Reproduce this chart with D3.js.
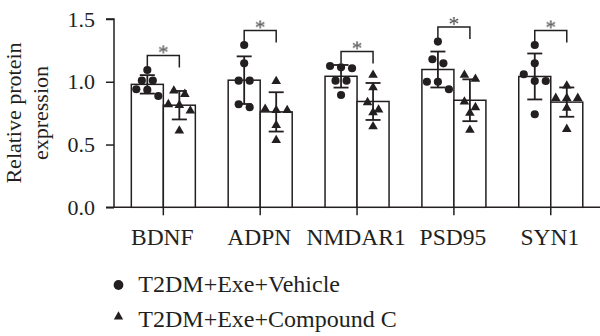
<!DOCTYPE html>
<html>
<head>
<meta charset="utf-8">
<script src="https://cdn.jsdelivr.net/npm/d3@7"></script>
<style>
  body { margin: 0; background: #fff; }
  text { font-family: "Liberation Serif", "DejaVu Serif", serif; fill: #231f20; }
  .star { will-change: transform; }
</style>
</head>
<body>
<div id="chart"></div>
<script>
// values
const categories = ["BDNF", "ADPN", "NMDAR1", "PSD95", "SYN1"];
const groups = ["T2DM+Exe+Vehicle", "T2DM+Exe+Compound C"];
const vehicle = [
    [1.094, 1.01, 1.01, 0.94, 0.935, 0.887],
    [1.293, 1.147, 1.009, 1.009, 0.821, 0.797],
    [1.126, 1.115, 1.108, 1.009, 1.009, 0.895],
    [1.32, 1.179, 1.147, 1.0, 1.0, 0.94],
    [1.293, 1.147, 1.06, 1.006, 1.006, 0.741]
];
const compound = [
    [0.935, 0.908, 0.826, 0.82, 0.775, 0.616],
    [1.01, 0.79, 0.78, 0.78, 0.66, 0.54],
    [1.06, 0.961, 0.842, 0.783, 0.762, 0.65],
    [1.06, 1.028, 0.847, 0.802, 0.757, 0.622],
    [0.974, 0.876, 0.876, 0.876, 0.797, 0.629]
];
const signif = ["*", "*", "*", "*", "*"];
const yTicks = [0, 0.5, 1.0, 1.5];

const width = 600, height = 336;
const ink = "#231f20";

const svg = d3.select("#chart").append("svg")
    .attr("width", width)
    .attr("height", height);

const y = d3.scaleLinear().domain([0, 1.5]).range([207.3, 19]);
const x0 = d3.scaleBand().domain(categories).range([114.9, 599.2]);
const x1 = d3.scaleBand().domain(groups).range([0, x0.bandwidth()]).paddingOuter(0.513);

// y axis
const yAxis = svg.append("g")
    .attr("transform", "translate(114,0)")
    .call(d3.axisLeft(y).tickValues(yTicks).tickFormat(d3.format(".1f")).tickSize(8).tickPadding(11));
yAxis.select(".domain").attr("stroke", ink).attr("stroke-width", 1.5).attr("d", `M-8,${y(1.5)}H0V${y(0)}`);
yAxis.selectAll(".tick line").attr("stroke", ink).attr("stroke-width", 1.5);
yAxis.selectAll(".tick text")
    .attr("font-size", 22)
    .attr("fill", ink)
    .attr("font-family", "Liberation Serif");

// x axis line with ticks between bar pairs
svg.append("line")
    .attr("x1", 106).attr("x2", width)
    .attr("y1", y(0)).attr("y2", y(0))
    .attr("stroke", ink).attr("stroke-width", 1.5);

const cat = svg.selectAll(".cat")
    .data(categories)
    .join("g")
    .attr("class", "cat")
    .attr("transform", d => `translate(${x0(d)},0)`);

cat.append("line")
    .attr("x1", x0.bandwidth() / 2).attr("x2", x0.bandwidth() / 2)
    .attr("y1", y(0)).attr("y2", y(0) + 8)
    .attr("stroke", ink).attr("stroke-width", 1.5);

cat.append("text")
    .attr("x", x0.bandwidth() / 2 - 1)
    .attr("y", 245)
    .attr("text-anchor", "middle")
    .attr("font-size", 23.5)
    .text(d => d);

// group the points in rows and spread each row sideways
function swarm(values) {
    const sorted = values.slice().sort((a, b) => b - a);
    const rows = [];
    sorted.forEach(v => {
        const last = rows[rows.length - 1];
        if (last && y(v) - y(last[0]) < 8) last.push(v);
        else rows.push([v]);
    });
    const out = [];
    rows.forEach(r => r.forEach((v, k) => out.push({ v: v, dx: (k - (r.length - 1) / 2) * 11 })));
    return out;
}

const circle = d3.symbol().type(d3.symbolCircle).size(52);
const triangle = d3.symbol().type(d3.symbolTriangle).size(40);

categories.forEach((c, i) => {
    const g = svg.append("g").attr("transform", `translate(${x0(c)},0)`);
    const sets = [vehicle[i], compound[i]];

    sets.forEach((vals, j) => {
        const cx = x1(groups[j]) + x1.bandwidth() / 2;
        const m = d3.mean(vals), sd = d3.deviation(vals);

        g.append("rect")
            .attr("x", x1(groups[j]))
            .attr("y", y(m))
            .attr("width", x1.bandwidth())
            .attr("height", y(0) - y(m))
            .attr("fill", "#fff")
            .attr("stroke", ink)
            .attr("stroke-width", 1.5);

        // error bar
        g.append("line")
            .attr("x1", cx).attr("x2", cx)
            .attr("y1", y(m + sd)).attr("y2", y(m - sd))
            .attr("stroke", ink).attr("stroke-width", 1.8);
        [m + sd, m - sd].forEach(v => {
            g.append("line")
                .attr("x1", cx - 7.5).attr("x2", cx + 7.5)
                .attr("y1", y(v)).attr("y2", y(v))
                .attr("stroke", ink).attr("stroke-width", 1.8);
        });

        g.selectAll(null)
            .data(swarm(vals))
            .join("path")
            .attr("d", j === 0 ? circle : triangle)
            .attr("transform", d => `translate(${cx + d.dx},${y(d.v) + (j === 0 ? 0 : 0.8)})`)
            .attr("fill", ink);
    });

    // significance bracket
    const xa = x1(groups[0]) + x1.bandwidth() / 2;
    const xb = x1(groups[1]) + x1.bandwidth() / 2;
    const top = y(d3.max(vehicle[i].concat(compound[i]))) - 14.5;
    g.append("path")
        .attr("d", `M${xa},${top + 12}V${top}H${xb}V${top + 12}`)
        .attr("fill", "none")
        .attr("stroke", ink)
        .attr("stroke-width", 1.5);
    g.append("text")
        .attr("class", "star")
        .attr("transform", `translate(${(xa + xb) / 2},${top + 4}) rotate(0.01)`)
        .attr("text-anchor", "middle")
        .attr("font-size", 22)
        .style("fill", "#444")
        .text(signif[i]);
});

// y axis title
svg.append("text")
    .attr("transform", "translate(21,113) rotate(-90)")
    .attr("text-anchor", "middle")
    .attr("font-size", 22)
    .text("Relative protein");
svg.append("text")
    .attr("transform", "translate(48,113) rotate(-90)")
    .attr("text-anchor", "middle")
    .attr("font-size", 22)
    .text("expression");

// legend
const legend = svg.selectAll(".legend")
    .data(groups)
    .join("g")
    .attr("class", "legend")
    .attr("transform", (d, i) => `translate(118.5,${292.3 + i * 34.4})`);

legend.append("path")
    .attr("d", (d, i) => i === 0 ? d3.symbol().type(d3.symbolCircle).size(75)() : d3.symbol().type(d3.symbolTriangle).size(38)())
    .attr("transform", (d, i) => `translate(0,${i === 0 ? -7.3 : -10})`)
    .attr("fill", ink);

legend.append("text")
    .attr("x", 19.8)
    .attr("y", 0)
    .attr("font-size", 24)
    .text(d => d);
</script>
</body>
</html>
